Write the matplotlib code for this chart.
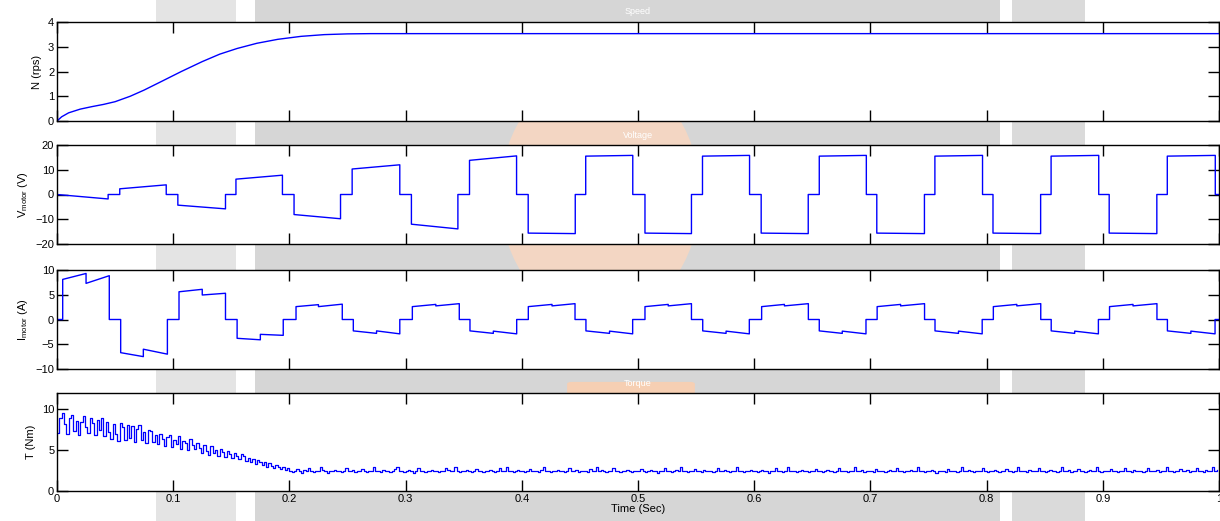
import numpy as np
import matplotlib
matplotlib.use("Agg")
import matplotlib.pyplot as plt
from matplotlib.patches import Rectangle, Ellipse, FancyBboxPatch

plt.rcParams['font.family'] = ['Liberation Sans', 'DejaVu Sans']
plt.rcParams['mathtext.fontset'] = 'custom'
plt.rcParams['mathtext.rm'] = 'Liberation Sans'
plt.rcParams['mathtext.it'] = 'Liberation Sans:italic'

# ---- speed (rps) ----
speed_t = [0, 0.004, 0.01, 0.02, 0.03, 0.04, 0.05, 0.063, 0.075, 0.09, 0.107,
           0.125, 0.14, 0.155, 0.172, 0.19, 0.21, 0.23, 0.25, 0.27, 0.3, 1.0]
speed_n = [0, 0.17, 0.33, 0.48, 0.58, 0.67, 0.78, 1.0, 1.25, 1.6, 2.0,
           2.4, 2.7, 2.93, 3.14, 3.3, 3.42, 3.49, 3.52, 3.53, 3.53, 3.53]

# ---- phase windows (conduction intervals) ----
win_start = [0.0, 0.054, 0.104, 0.154, 0.204, 0.254, 0.305, 0.355, 0.4055, 0.455,
             0.506, 0.5555, 0.606, 0.656, 0.7055, 0.7555, 0.8055, 0.8555, 0.9055, 0.9555]
win_end = [0.044, 0.094, 0.145, 0.194, 0.244, 0.295, 0.345, 0.3955, 0.446, 0.4955,
           0.546, 0.596, 0.6465, 0.6965, 0.7465, 0.7965, 0.8465, 0.8965, 0.9465, 0.9968]

# voltage at start / end of each window
volt_a = [0, 2.3, -4.3, 6.2, -8.1, 10.3, -12.0, 13.8, -15.6, 15.5,
          -15.6, 15.5, -15.6, 15.5, -15.6, 15.5, -15.6, 15.5, -15.6, 15.5]
volt_b = [-1.8, 3.9, -5.8, 7.8, -9.8, 12.0, -13.9, 15.6, -15.8, 15.8,
          -15.8, 15.8, -15.8, 15.8, -15.8, 15.8, -15.8, 15.8, -15.8, 15.8]

# current: first half / second half of each window (start, end values)
cur_start = [0.0049, 0.0548, 0.105, 0.155, 0.2057, 0.255, 0.3058, 0.3554, 0.4056, 0.4552,
             0.506, 0.5557, 0.6064, 0.656, 0.7058, 0.7556, 0.8058, 0.8556, 0.9058, 0.9556]
cur_mid = [0.025, 0.0743, 0.125, 0.175, 0.225, 0.275, 0.326, 0.3755, 0.426, 0.4755,
           0.526, 0.5758, 0.626, 0.6758, 0.726, 0.7758, 0.826, 0.8758, 0.926, 0.9758]
cur_end = [0.045, 0.095, 0.145, 0.1947, 0.2455, 0.295, 0.3462, 0.3956, 0.4458, 0.4954,
           0.546, 0.5958, 0.6466, 0.6962, 0.7466, 0.7962, 0.8466, 0.8962, 0.9466, 0.9966]
cur_a0 = [8.1, -6.7, 5.6, -3.8, 2.6, -2.3, 2.6, -2.3, 2.6, -2.3,
          2.6, -2.3, 2.6, -2.3, 2.6, -2.3, 2.6, -2.3, 2.6, -2.3]
cur_a1 = [9.3, -7.5, 6.1, -4.1, 3.0, -2.8, 3.05, -2.8, 3.05, -2.8,
          3.05, -2.8, 3.05, -2.8, 3.05, -2.8, 3.05, -2.8, 3.05, -2.8]
cur_b0 = [7.3, -6.0, 4.95, -3.0, 2.6, -2.3, 2.75, -2.35, 2.75, -2.35,
          2.75, -2.35, 2.75, -2.35, 2.75, -2.35, 2.75, -2.35, 2.75, -2.35]
cur_b1 = [8.85, -7.0, 5.3, -3.2, 3.1, -2.9, 3.2, -2.9, 3.2, -2.9,
          3.2, -2.9, 3.2, -2.9, 3.2, -2.9, 3.2, -2.9, 3.2, -2.9]

# ---- torque samples, 2 ms apart ----
torque_dt = 0.002
torque_start = [
    7.1, 9.0, 9.6, 8.2, 7.0, 8.9, 9.3, 7.4, 8.6, 6.9, 8.4, 9.2, 7.8, 7.1, 9.0, 8.3, 6.8, 8.7, 7.5, 8.9,
    6.7, 8.5, 7.2, 6.4, 8.2, 7.0, 6.1, 8.3, 7.8, 6.2, 8.1, 6.5, 7.9, 6.0, 7.6, 8.1, 6.3, 7.2, 5.9, 7.5,
    7.3, 6.0, 6.8, 5.7, 7.0, 6.4, 5.5, 6.6, 6.9, 5.4, 6.3, 5.8, 6.7, 5.2, 6.1, 5.9, 5.0, 6.4, 5.6, 5.1,
    5.9, 5.3, 4.7, 5.6, 4.9, 4.4, 5.5, 4.6, 5.0, 4.3, 5.2, 4.8, 4.2, 4.9, 4.5, 4.0, 4.7, 4.3, 3.9, 4.5,
    4.3, 3.7, 4.1, 3.5, 3.9, 3.3, 3.8, 3.6, 3.2, 3.5, 3.0, 3.4, 3.1, 2.8, 3.2, 2.9, 2.7, 3.0, 2.6, 2.8,
]
torque_steady = [
    2.5, 2.3, 2.4, 2.7, 2.4, 2.2, 2.6, 2.5, 2.8, 2.4, 2.3, 2.5, 2.4, 2.9, 2.6, 2.4, 2.2, 2.5, 2.4, 2.6,
    2.4, 2.5, 2.3, 2.4, 2.8, 2.5, 2.4, 2.6, 2.3, 2.4, 2.5, 2.7, 2.4, 2.3, 2.5, 2.4, 2.9, 2.5, 2.4, 2.3,
    2.6, 2.4, 2.5, 2.3, 2.4, 2.7, 2.9, 2.4, 2.5, 2.3, 2.4, 2.6, 2.4, 2.2, 2.5, 2.8, 2.5, 2.4, 2.3, 2.5,
    2.4, 2.6, 2.5, 2.4, 2.3, 2.4, 2.5, 2.8, 2.6, 2.4, 2.5, 2.9, 2.4, 2.3, 2.5, 2.4, 2.6, 2.5, 2.3, 2.4,
    2.7, 2.5, 2.4, 2.3, 2.5, 2.4, 2.6, 2.4, 2.3, 2.5, 2.8, 2.4, 2.5, 3.0, 2.5, 2.4, 2.3, 2.4, 2.6, 2.5,
    2.4, 2.3, 2.5, 2.7, 2.4, 2.5, 2.4, 2.3, 2.6, 2.9, 2.5, 2.4, 2.3, 2.5, 2.4, 2.6, 2.4, 2.5, 2.3, 2.4,
    2.8, 2.5, 2.4, 2.6, 2.3, 2.4, 2.5, 2.4, 2.3, 2.7, 2.5, 2.4, 2.9, 2.5, 2.6, 2.4, 2.3, 2.5, 2.4, 2.8,
    2.5, 2.4, 2.3, 2.5, 2.4, 2.6, 2.5, 2.3, 2.4, 2.5, 2.4, 2.7, 2.5, 2.3, 2.4, 2.6, 2.5, 2.4, 2.2, 2.5,
    2.4, 2.8, 2.5, 2.4, 2.3, 2.5, 2.6, 2.4, 2.9, 2.5, 2.4, 2.3, 2.5, 2.4, 2.7, 2.5, 2.4, 2.3, 2.6, 2.4,
    2.5, 2.4, 2.3, 2.5, 2.8, 2.4, 2.5, 2.6, 2.4, 2.3, 2.5, 2.4, 3.0, 2.5, 2.4, 2.3, 2.5, 2.4, 2.6, 2.5,
    2.4, 2.3, 2.4, 2.6, 2.5, 2.4, 2.2, 2.5, 2.4, 2.8, 2.5, 2.4, 2.3, 2.5, 2.9, 2.4, 2.5, 2.4, 2.3, 2.5,
    2.6, 2.4, 2.5, 2.3, 2.4, 2.5, 2.7, 2.4, 2.5, 2.3, 2.4, 2.6, 2.5, 2.4, 2.3, 2.5, 2.8, 2.4, 2.5, 2.4,
    2.3, 2.5, 2.4, 2.9, 2.5, 2.4, 2.6, 2.3, 2.4, 2.5, 2.4, 2.3, 2.7, 2.5, 2.4, 2.5, 2.3, 2.4, 2.6, 2.5,
    2.4, 2.8, 2.5, 2.4, 2.3, 2.5, 2.4, 2.6, 2.5, 2.4, 3.0, 2.5, 2.4, 2.3, 2.5, 2.4, 2.6, 2.4, 2.2, 2.5,
    2.4, 2.5, 2.3, 2.7, 2.5, 2.4, 2.5, 2.3, 2.4, 2.9, 2.5, 2.4, 2.6, 2.5, 2.3, 2.4, 2.5, 2.4, 2.8, 2.5,
    2.3, 2.4, 2.5, 2.6, 2.4, 2.3, 2.5, 2.4, 2.7, 2.5, 2.4, 2.3, 2.5, 2.9, 2.4, 2.5, 2.4, 2.3, 2.6, 2.4,
    2.5, 2.4, 2.8, 2.5, 2.4, 2.3, 2.5, 2.6, 2.4, 2.5, 2.3, 2.4, 3.0, 2.5, 2.4, 2.6, 2.3, 2.5, 2.4, 2.7,
    2.4, 2.5, 2.3, 2.4, 2.6, 2.5, 2.4, 2.9, 2.5, 2.3, 2.4, 2.5, 2.4, 2.7, 2.5, 2.4, 2.3, 2.5, 2.4, 2.8,
    2.5, 2.4, 2.3, 2.6, 2.4, 2.5, 2.4, 2.3, 2.5, 2.8, 2.4, 2.5, 2.4, 2.6, 2.3, 2.5, 2.4, 2.9, 2.5, 2.4,
    2.3, 2.5, 2.4, 2.7, 2.5, 2.4, 2.6, 2.3, 2.5, 2.4, 2.8, 2.5, 2.4, 2.3, 2.6, 2.4, 2.5, 2.9, 2.4, 2.6,
]
torque = torque_start + torque_steady

x_ticks = [0, 0.1, 0.2, 0.3, 0.4, 0.5, 0.6, 0.7, 0.8, 0.9, 1]
x_ticklabels = ['0', '0.1', '0.2', '0.3', '0.4', '0.5', '0.6', '0.7', '0.8', '0.9', '1']


def window_trace(starts, ends, a, b):
    t, y = [0.0], [0.0]
    for s, e, v0, v1 in zip(starts, ends, a, b):
        t += [s, s, e, e]
        y += [0.0, v0, v1, 0.0]
    t.append(1.0)
    y.append(0.0)
    return t, y


def split_trace(starts, mids, ends, a0, a1, b0, b1):
    t, y = [0.0], [0.0]
    for s, m, e, p0, p1, q0, q1 in zip(starts, mids, ends, a0, a1, b0, b1):
        t += [s, s, m, m, e, e]
        y += [0.0, p0, p1, q0, q1, 0.0]
    t.append(1.0)
    y.append(0.0)
    return t, y


W, H = 1220, 521
fig = plt.figure(figsize=(W / 100, H / 100), dpi=100)
fig.patch.set_facecolor('white')


def fx(x):
    return x / W


def fy(y):
    return 1 - y / H


# faint logo behind the panels
for x0, x1, c in [(156, 236, '#e4e4e4'), (255, 1000, '#d6d6d6'), (1012, 1085, '#dadada')]:
    fig.add_artist(Rectangle((fx(x0), 0), fx(x1) - fx(x0), 1, transform=fig.transFigure,
                             facecolor=c, edgecolor='none', zorder=-3))
fig.add_artist(Ellipse((fx(600), fy(195)), fx(200), 250 / H, transform=fig.transFigure,
                       facecolor='#f3d6c3', edgecolor='none', zorder=-2))
fig.add_artist(FancyBboxPatch((fx(572), fy(398)), fx(118), 14 / H, boxstyle='round,pad=0.004',
                              transform=fig.transFigure, facecolor='#f6cfb3',
                              edgecolor='none', zorder=-2))

left, width = fx(57), fx(1219) - fx(57)
rows = [(22, 121), (145, 244), (270, 369), (393, 491)]
axes = [fig.add_axes([left, fy(b), width, (b - t) / H]) for t, b in rows]

blue = '#0000ff'
ax_n, ax_v, ax_i, ax_t = axes

ax_n.plot(speed_t, speed_n, color=blue, lw=1)
ax_n.set_ylim(0, 4)
ax_n.set_yticks([0, 1, 2, 3, 4])
ax_n.set_ylabel('N (rps)')

vt, vy = window_trace(win_start, win_end, volt_a, volt_b)
ax_v.plot(vt, vy, color=blue, lw=1)
ax_v.set_ylim(-20, 20)
ax_v.set_yticks([-20, -10, 0, 10, 20])
ax_v.set_ylabel(r'V$_{\mathrm{motor}}$ (V)')

it, iy = split_trace(cur_start, cur_mid, cur_end, cur_a0, cur_a1, cur_b0, cur_b1)
ax_i.plot(it, iy, color=blue, lw=1)
ax_i.set_ylim(-10, 10)
ax_i.set_yticks([-10, -5, 0, 5, 10])
ax_i.set_ylabel(r'I$_{\mathrm{motor}}$ (A)')

tt = np.arange(len(torque)) * torque_dt
ax_t.plot(tt, torque, color=blue, lw=0.9, drawstyle='steps-post')
ax_t.set_ylim(0, 12)
ax_t.set_yticks([0, 5, 10])
ax_t.set_ylabel('T (Nm)')
ax_t.set_xlabel('Time (Sec)', fontsize=8, labelpad=0)

for ax in axes:
    ax.set_xlim(0, 1)
    ax.set_xticks(x_ticks)
    ax.tick_params(direction='in', length=8, width=1, top=True, right=True, labelsize=8, pad=2)
    ax.yaxis.label.set_size(8)
    ax.yaxis.labelpad = 4
    for s in ax.spines.values():
        s.set_linewidth(1)
    if ax is not ax_t:
        ax.set_xticklabels([])
    else:
        ax.set_xticklabels(x_ticklabels)

# panel titles in white
for label, y in [('Speed', 12), ('Voltage', 135), ('Torque', 383)]:
    fig.text(fx(638), fy(y), label, color='white', fontsize=6.5, ha='center', va='center')

fig.savefig('out.png', dpi=100)
